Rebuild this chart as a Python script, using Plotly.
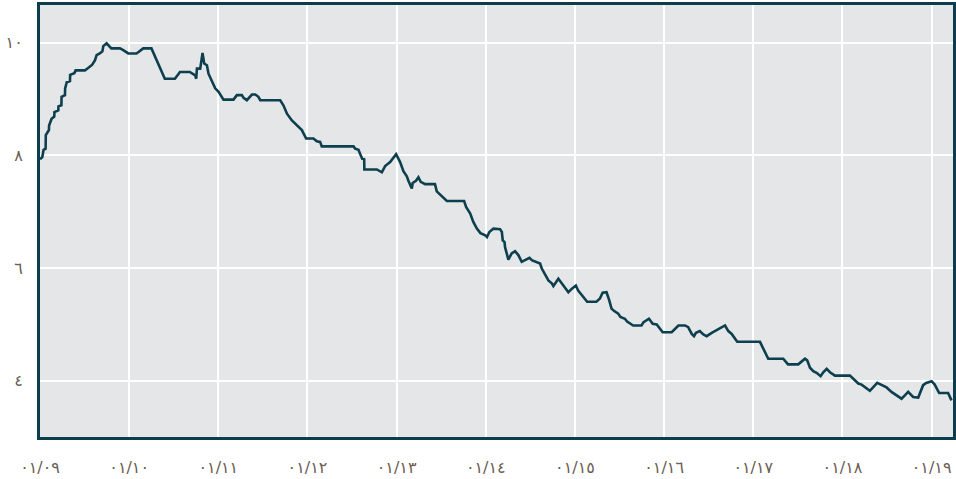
import plotly.graph_objects as go

# decimal years (2009.0 = Jan 2009) and values
years = [
    2009.000, 2009.026, 2009.040, 2009.063, 2009.065, 2009.100, 2009.102, 2009.130, 2009.160, 2009.162,
    2009.205, 2009.207, 2009.240, 2009.242, 2009.280, 2009.282, 2009.300, 2009.336, 2009.338, 2009.385,
    2009.400, 2009.504, 2009.540, 2009.586, 2009.617, 2009.635, 2009.670, 2009.700, 2009.710, 2009.747,
    2009.800, 2009.897, 2009.934, 2009.990, 2010.083, 2010.158, 2010.250, 2010.307, 2010.345, 2010.400,
    2010.513, 2010.570, 2010.680, 2010.741, 2010.752, 2010.760, 2010.797, 2010.823, 2010.842, 2010.872,
    2010.890, 2010.917, 2010.940, 2010.965, 2011.003, 2011.040, 2011.058, 2011.170, 2011.208, 2011.264,
    2011.283, 2011.320, 2011.357, 2011.377, 2011.414, 2011.450, 2011.470, 2011.694, 2011.730, 2011.770,
    2011.825, 2011.880, 2011.937, 2011.985, 2012.067, 2012.105, 2012.142, 2012.160, 2012.516, 2012.535,
    2012.572, 2012.590, 2012.613, 2012.636, 2012.638, 2012.778, 2012.834, 2012.871, 2012.927, 2012.994,
    2013.039, 2013.076, 2013.114, 2013.132, 2013.170, 2013.180, 2013.217, 2013.244, 2013.270, 2013.320,
    2013.430, 2013.450, 2013.507, 2013.563, 2013.757, 2013.780, 2013.824, 2013.860, 2013.900, 2013.940,
    2013.994, 2014.013, 2014.040, 2014.085, 2014.160, 2014.180, 2014.190, 2014.210, 2014.216, 2014.240,
    2014.253, 2014.290, 2014.328, 2014.365, 2014.403, 2014.440, 2014.490, 2014.516, 2014.572, 2014.609,
    2014.628, 2014.665, 2014.702, 2014.740, 2014.758, 2014.814, 2014.852, 2014.890, 2014.926, 2014.963,
    2015.010, 2015.036, 2015.092, 2015.137, 2015.240, 2015.280, 2015.310, 2015.354, 2015.384, 2015.410,
    2015.437, 2015.485, 2015.510, 2015.560, 2015.585, 2015.634, 2015.653, 2015.746, 2015.770, 2015.830,
    2015.872, 2015.917, 2015.984, 2016.085, 2016.160, 2016.235, 2016.270, 2016.310, 2016.335, 2016.357,
    2016.400, 2016.440, 2016.477, 2016.534, 2016.627, 2016.683, 2016.720, 2016.758, 2016.820, 2017.075,
    2017.168, 2017.336, 2017.390, 2017.504, 2017.580, 2017.605, 2017.636, 2017.673, 2017.710, 2017.755,
    2017.785, 2017.823, 2017.860, 2017.916, 2018.084, 2018.130, 2018.178, 2018.215, 2018.308, 2018.390,
    2018.440, 2018.495, 2018.550, 2018.625, 2018.663, 2018.700, 2018.737, 2018.793, 2018.850, 2018.905,
    2018.940, 2019.000, 2019.035, 2019.085, 2019.185, 2019.223,
]
rates = [
    7.93, 7.97, 8.10, 8.12, 8.36, 8.45, 8.53, 8.65, 8.69, 8.77,
    8.80, 8.87, 8.89, 9.04, 9.07, 9.19, 9.30, 9.32, 9.43, 9.46,
    9.51, 9.51, 9.55, 9.61, 9.69, 9.78, 9.81, 9.85, 9.94, 9.99,
    9.90, 9.90, 9.87, 9.81, 9.81, 9.90, 9.90, 9.69, 9.57, 9.36,
    9.36, 9.48, 9.48, 9.42, 9.36, 9.54, 9.54, 9.82, 9.63, 9.60,
    9.45, 9.36, 9.28, 9.19, 9.13, 9.04, 8.99, 8.99, 9.07, 9.07,
    9.02, 8.98, 9.04, 9.08, 9.08, 9.04, 8.98, 8.98, 8.89, 8.74,
    8.62, 8.53, 8.45, 8.30, 8.30, 8.25, 8.24, 8.16, 8.16, 8.12,
    8.10, 8.03, 7.94, 7.93, 7.75, 7.75, 7.70, 7.81, 7.88, 8.02,
    7.88, 7.72, 7.63, 7.55, 7.41, 7.51, 7.55, 7.61, 7.53, 7.49,
    7.49, 7.36, 7.27, 7.19, 7.19, 7.08, 6.97, 6.82, 6.70, 6.62,
    6.58, 6.55, 6.64, 6.70, 6.69, 6.64, 6.49, 6.46, 6.37, 6.20,
    6.15, 6.26, 6.30, 6.23, 6.11, 6.14, 6.18, 6.14, 6.11, 6.08,
    5.99, 5.87, 5.78, 5.73, 5.68, 5.81, 5.73, 5.63, 5.57, 5.63,
    5.69, 5.60, 5.48, 5.40, 5.40, 5.46, 5.56, 5.57, 5.43, 5.28,
    5.24, 5.19, 5.13, 5.10, 5.05, 5.01, 4.98, 4.98, 5.04, 5.10,
    5.01, 5.00, 4.86, 4.86, 4.98, 4.98, 4.95, 4.83, 4.79, 4.85,
    4.88, 4.82, 4.79, 4.85, 4.94, 4.98, 4.88, 4.83, 4.69, 4.69,
    4.39, 4.39, 4.29, 4.29, 4.39, 4.36, 4.23, 4.17, 4.14, 4.08,
    4.15, 4.21, 4.15, 4.09, 4.09, 4.02, 3.95, 3.93, 3.82, 3.96,
    3.92, 3.88, 3.80, 3.71, 3.68, 3.74, 3.80, 3.71, 3.70, 3.92,
    3.96, 3.99, 3.93, 3.78, 3.78, 3.65,
]

x_tick_vals = [2009, 2010, 2011, 2012, 2013, 2014, 2015, 2016, 2017, 2018, 2019]
x_tick_text = ["٠١/٠٩", "٠١/١٠", "٠١/١١", "٠١/١٢", "٠١/١٣", "٠١/١٤",
               "٠١/١٥", "٠١/١٦", "٠١/١٧", "٠١/١٨", "٠١/١٩"]
y_tick_vals = [4, 6, 8, 10]
y_tick_text = ["٤", "٦", "٨", "١٠"]

frame = "#0b3d4c"
label_color = "#6a5d52"

fig = go.Figure(go.Scatter(
    x=years, y=rates, mode="lines",
    line=dict(color="#0d3f4e", width=2.6),
    hoverinfo="skip",
))

fig.update_layout(
    width=956, height=479,
    margin=dict(l=40, r=3, t=5, b=42),
    paper_bgcolor="white",
    plot_bgcolor="#e5e6e8",
    showlegend=False,
    font=dict(family="DejaVu Sans", size=16, color=label_color),
)
fig.update_xaxes(
    range=[2009.0, 2019.24], automargin=False,
    tickmode="array", tickvals=x_tick_vals, ticktext=x_tick_text,
    showgrid=True, gridcolor="white", gridwidth=2,
    showline=True, linecolor=frame, linewidth=3, mirror=True,
    ticks="", ticklabelstandoff=14, zeroline=False,
)
fig.update_yaxes(
    range=[3.0, 10.67], automargin=False,
    tickmode="array", tickvals=y_tick_vals, ticktext=y_tick_text,
    showgrid=True, gridcolor="white", gridwidth=2,
    showline=True, linecolor=frame, linewidth=3, mirror=True,
    ticks="", ticklabelstandoff=11, zeroline=False,
)

fig.write_html(
    "out.html",
    config={"displayModeBar": False},
    post_script="document.body.style.margin='0';document.body.style.overflow='hidden';",
)
